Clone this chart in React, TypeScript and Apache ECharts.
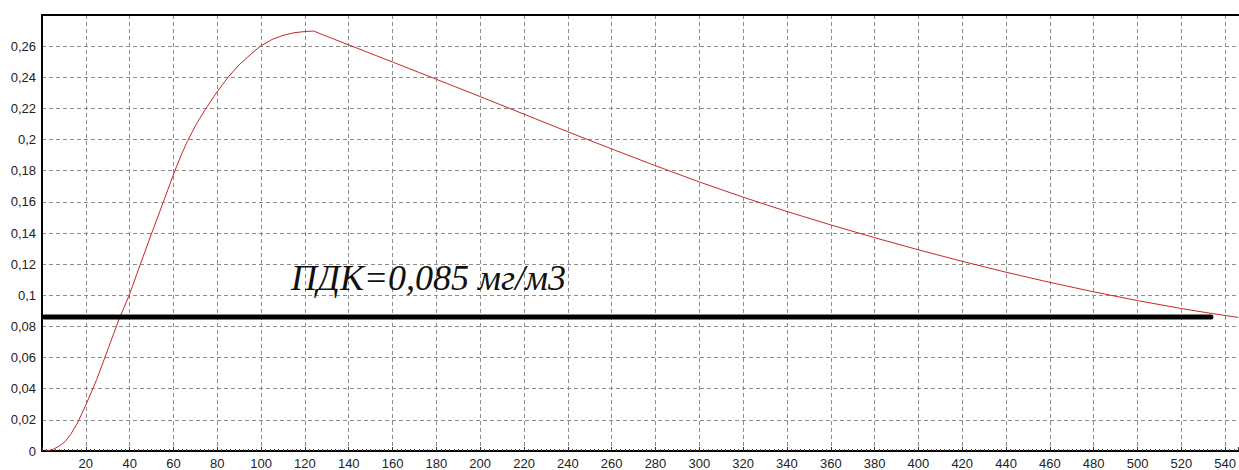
import React, { useEffect, useRef } from "react";
import * as echarts from "echarts";

// Concentration curve (x: distance, y: concentration mg/m3)
const curveX = [2, 5, 8, 10.5, 13, 16, 20, 25, 30, 35, 39.8, 44.9, 50.1, 55.4, 60.6, 63.5, 66.5, 70.5, 74.6, 79.5, 84.6, 90, 95, 99.4, 105, 110, 115, 120, 124, 130, 140, 160, 180, 200, 220, 240, 260, 280, 300, 320, 340, 360, 380, 400, 420, 440, 460, 480, 500, 520, 533.5, 546];
const curveY = [0, 0.001, 0.0033, 0.006, 0.0105, 0.0175, 0.0295, 0.046, 0.065, 0.084, 0.1, 0.12, 0.14, 0.16, 0.1798, 0.19, 0.1993, 0.2101, 0.2195, 0.2298, 0.2395, 0.2481, 0.2544, 0.2597, 0.2643, 0.2669, 0.2686, 0.2694, 0.2697, 0.2663, 0.2608, 0.2498, 0.2387, 0.2276, 0.2163, 0.205, 0.194, 0.1832, 0.1728, 0.163, 0.1538, 0.1452, 0.137, 0.1292, 0.1218, 0.1148, 0.1083, 0.1022, 0.0966, 0.0915, 0.0884, 0.0858];

// ПДК threshold line
const pdkX = [1, 533.5];
const pdkValue = 0.086;
const pdkLabel = "ПДК=0,085 мг/м3";

// Axes
const xMin = 0;
const xMax = 546;
const xStep = 20;
const yMin = 0;
const yMax = 0.28;
const yStep = 0.02;

const labelFont = "Liberation Sans";

export default function App() {
  const ref = useRef<HTMLDivElement>(null);

  useEffect(() => {
    if (!ref.current) return;
    const chart = echarts.init(ref.current, undefined, { renderer: "svg" });
    const gridLine = { show: true, lineStyle: { color: "#8c8c8c", type: [4, 3], width: 1 } };
    chart.setOption({
      animation: false,
      backgroundColor: "#fff",
      grid: { left: 42, right: 0, top: 15, bottom: 18, containLabel: false },
      xAxis: [
        {
          type: "value",
          min: xMin,
          max: xMax,
          interval: xStep,
          axisLine: { show: true, onZero: false, lineStyle: { color: "#000", width: 2 } },
          axisTick: { show: true, inside: true, length: 4, lineStyle: { color: "#333" } },
          minorTick: { show: true, splitNumber: 10, length: 2, lineStyle: { color: "#444" } },
          axisLabel: {
            showMinLabel: false,
            showMaxLabel: false,
            margin: 6,
            fontFamily: labelFont,
            fontSize: 13,
            color: "#222",
          },
          splitLine: { ...gridLine, showMaxLine: false },
        },
        {
          type: "value",
          position: "top",
          min: xMin,
          max: xMax,
          axisLine: { show: true, onZero: false, lineStyle: { color: "#000", width: 2 } },
          axisTick: { show: false },
          axisLabel: { show: false },
          splitLine: { show: false },
        },
      ],
      yAxis: {
        type: "value",
        min: yMin,
        max: yMax,
        interval: yStep,
        axisLine: { show: true, onZero: false, lineStyle: { color: "#000", width: 2 } },
        axisTick: { show: false },
        axisLabel: {
          showMaxLabel: false,
          margin: 6,
          fontFamily: labelFont,
          fontSize: 13,
          color: "#222",
          formatter: (v: number) => String(Math.round(v * 100) / 100).replace(".", ","),
        },
        splitLine: gridLine,
      },
      series: [
        {
          type: "line",
          data: curveX.map((x, i) => [x, curveY[i]]),
          showSymbol: false,
          symbol: "none",
          smooth: false,
          lineStyle: { color: "#c62828", width: 1 },
          z: 3,
        },
        {
          type: "line",
          data: pdkX.map((x) => [x, pdkValue]),
          showSymbol: false,
          symbol: "none",
          lineStyle: { color: "#000", width: 5, cap: "round" },
          z: 4,
        },
      ],
      graphic: [
        {
          type: "text",
          left: 291,
          top: 260,
          style: {
            text: pdkLabel,
            fontFamily: "Liberation Serif",
            fontStyle: "italic",
            fontSize: 36,
            fill: "#111",
          },
          z: 10,
        },
      ],
    });
    return () => chart.dispose();
  }, []);

  return (
    <div
      ref={ref}
      style={{ position: "fixed", left: 0, top: 0, width: 1239, height: 470, background: "#fff" }}
    />
  );
}
